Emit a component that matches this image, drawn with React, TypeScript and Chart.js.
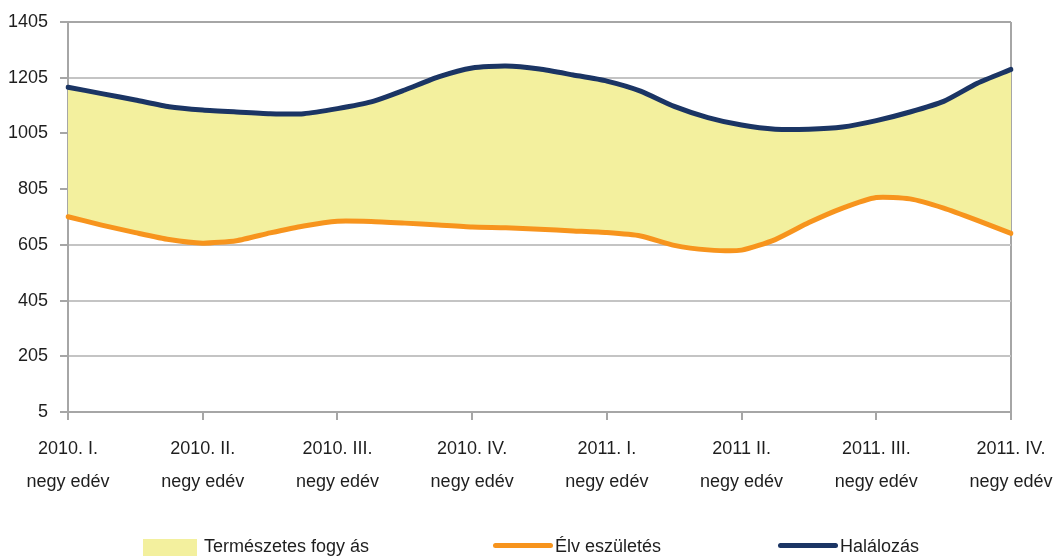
import React, { useEffect, useRef } from 'react';
import { Chart, registerables } from 'chart.js';

Chart.register(...registerables);

// Quarter tick labels (two lines each)
const quarterLabels: string[][] = [
  ['2010. I.', 'negy edév'],
  ['2010. II.', 'negy edév'],
  ['2010. III.', 'negy edév'],
  ['2010. IV.', 'negy edév'],
  ['2011. I.', 'negy edév'],
  ['2011 II.', 'negy edév'],
  ['2011. III.', 'negy edév'],
  ['2011. IV.', 'negy edév'],
];
const pointsPerQuarter = 4;

// Élveszületés
const births: number[] = [
  706, 676, 649, 624, 611, 620, 648, 673, 690, 689, 683, 676, 669, 666, 661, 655,
  649, 637, 603, 587, 586, 624, 685, 737, 775, 770, 737, 693, 646,
];
// Halálozás
const deaths: number[] = [
  1171, 1148, 1125, 1101, 1089, 1082, 1076, 1076, 1094, 1118, 1161, 1208, 1240, 1247, 1236, 1215,
  1193, 1157, 1102, 1062, 1035, 1020, 1020, 1028, 1051, 1082, 1120, 1185, 1235,
];

const seriesNames = ['Természetes fogy ás', 'Élv eszületés', 'Halálozás'];
const yTicks = { min: 5, max: 1405, step: 200 };

const FONT = '"Liberation Sans Narrow", "Arial Narrow", "Liberation Sans", Arial, sans-serif';
const FONT_SIZE = 18;
const YELLOW = '#f3f09e';
const ORANGE = '#f7941d';
const NAVY = '#1b3564';
const AXIS = '#a6a6a6';
const GRID = '#c4c4c4';
const TEXT = '#1e1e1e';

const categories: (string | string[])[] = births.map((_, i) =>
  i % pointsPerQuarter === 0 ? quarterLabels[i / pointsPerQuarter] : ''
);

export default function App() {
  const ref = useRef<HTMLCanvasElement>(null);

  useEffect(() => {
    document.body.style.margin = '0';
    const last = categories.length - 1;
    const chart = new Chart(ref.current as HTMLCanvasElement, {
      type: 'line',
      data: {
        labels: categories,
        datasets: [
          {
            label: seriesNames[1],
            data: births,
            borderColor: ORANGE,
            borderWidth: 5,
            pointRadius: 0,
            tension: 0.2,
            fill: false,
            borderCapStyle: 'round',
          },
          {
            label: seriesNames[2],
            data: deaths,
            borderColor: NAVY,
            borderWidth: 5,
            pointRadius: 0,
            tension: 0.2,
            fill: false,
            borderCapStyle: 'round',
          },
          {
            label: seriesNames[0],
            data: deaths,
            borderWidth: 0,
            borderColor: 'rgba(0,0,0,0)',
            backgroundColor: YELLOW,
            pointRadius: 0,
            tension: 0.2,
            fill: 0,
          },
        ],
      },
      options: {
        animation: false,
        responsive: true,
        maintainAspectRatio: false,
        layout: { padding: { top: 22, right: 43, bottom: 0, left: 0 } },
        plugins: {
          legend: { display: false },
          tooltip: { enabled: false },
        },
        scales: {
          x: {
            type: 'category',
            offset: false,
            border: { color: AXIS, width: 2 },
            grid: {
              drawOnChartArea: true,
              color: (ctx: any) => (ctx.index === last ? AXIS : 'rgba(0,0,0,0)'),
              tickColor: (ctx: any) => (ctx.index % pointsPerQuarter === 0 ? AXIS : 'rgba(0,0,0,0)'),
              lineWidth: 2,
              tickLength: 8,
            },
            ticks: {
              autoSkip: false,
              maxRotation: 0,
              minRotation: 0,
              padding: 12,
              color: TEXT,
              font: { family: FONT, size: FONT_SIZE, lineHeight: 1.85 },
            },
            afterFit: (s: any) => {
              s.height = 146;
              s.paddingLeft = 0;
              s.paddingRight = 0;
            },
          },
          y: {
            min: yTicks.min,
            max: yTicks.max,
            border: { color: AXIS, width: 2 },
            grid: {
              color: (ctx: any) => (ctx.tick && ctx.tick.value === yTicks.max ? AXIS : GRID),
              tickColor: AXIS,
              lineWidth: 2,
              tickLength: 8,
            },
            ticks: {
              stepSize: yTicks.step,
              padding: 12,
              color: TEXT,
              font: { family: FONT, size: FONT_SIZE },
              callback: (v: any) => String(v),
            },
            afterFit: (s: any) => {
              s.width = 68;
              s.paddingTop = 0;
              s.paddingBottom = 0;
            },
          },
        },
      },
    });
    return () => chart.destroy();
  }, []);

  const textStyle: React.CSSProperties = {
    position: 'absolute',
    fontFamily: FONT,
    fontSize: FONT_SIZE,
    color: TEXT,
    lineHeight: '22px',
    top: 535,
    whiteSpace: 'nowrap',
  };

  return (
    <div style={{ position: 'relative', width: 1054, height: 558, overflow: 'hidden' }}>
      <canvas ref={ref} style={{ display: 'block' }} />
      <div style={{ position: 'absolute', left: 143, top: 539, width: 54, height: 17, background: YELLOW }} />
      <div style={{ ...textStyle, left: 204 }}>{seriesNames[0]}</div>
      <div style={{ position: 'absolute', left: 493, top: 543, width: 60, height: 5, borderRadius: 3, background: ORANGE }} />
      <div style={{ ...textStyle, left: 555 }}>{seriesNames[1]}</div>
      <div style={{ position: 'absolute', left: 778, top: 543, width: 60, height: 5, borderRadius: 3, background: NAVY }} />
      <div style={{ ...textStyle, left: 840 }}>{seriesNames[2]}</div>
    </div>
  );
}
